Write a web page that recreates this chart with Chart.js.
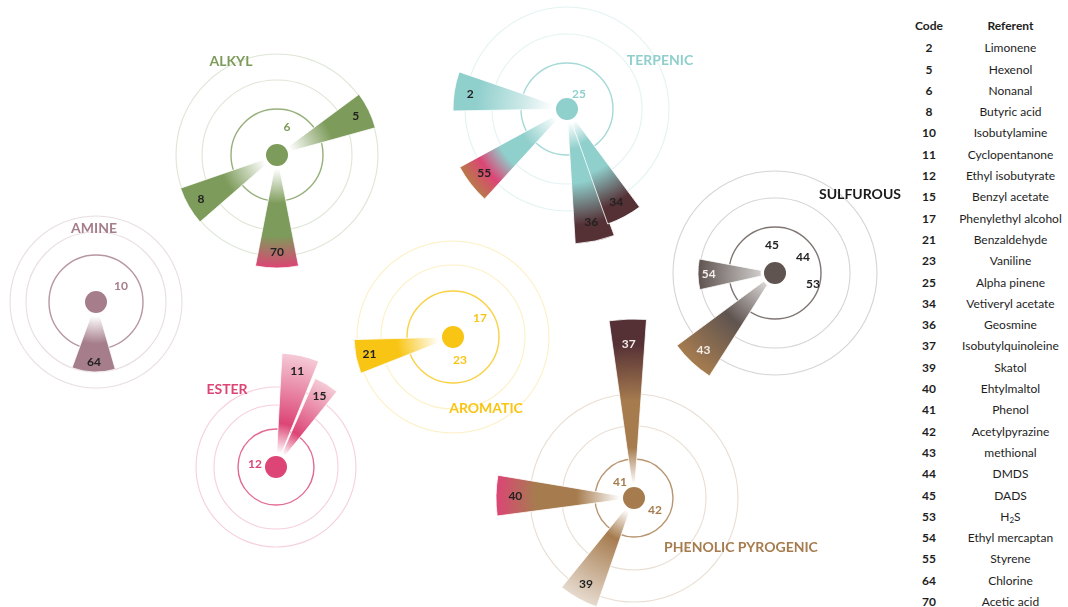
<!DOCTYPE html>
<html lang="en">
<head>
<meta charset="UTF-8">
<meta name="viewport" content="width=device-width, initial-scale=1.0">
<title>Odour families</title>
<script src="https://cdn.jsdelivr.net/npm/chart.js"></script>
<style>
    body { margin: 0; background: #fff; font-family: Lato, sans-serif; }
    .page { position: relative; width: 1068px; height: 607px; overflow: hidden; }
    .wheel-container { position: absolute; left: 0; top: 0; width: 905px; height: 607px; }
    .code-table { position: absolute; left: 905px; top: 15px; width: 163px; font-size: 12px; color: #1e1e1e; }
    .code-row { display: flex; height: 21.3px; line-height: 21.3px; white-space: nowrap; }
    .code-row.head { height: 22.3px; line-height: 22.3px; }
    .code-row .code { width: 50px; text-align: center; font-weight: bold; }
    .code-row .ref { width: 120px; text-align: center; }
    .code-row.head .ref { font-weight: bold; }
    sub { font-size: 8px; line-height: 0; vertical-align: -2px; }
</style>
</head>
<body>
<div class="page">
    <div class="wheel-container">
        <canvas id="wheelChart"></canvas>
    </div>
    <div class="code-table" id="codeTable"></div>
</div>

<script>
    // odour families (one wheel each)
    const families = ['ALKYL', 'TERPENIC', 'SULFUROUS', 'AMINE', 'ESTER', 'AROMATIC', 'PHENOLIC PYROGENIC'];
    const familyX = [27.7, 56.7, 77.5, 9.6, 27.6, 45.3, 63.4];
    const familyY = [15.5, 10.9, 27.3, 30.2, 46.7, 33.7, 49.8];
    const ringRadii = [
        [4.6, 7.5, 10.1], [4.6, 7.5, 10.2], [4.6, 7.5, 10.2], [4.7, 7.0, 8.6],
        [3.8, 6.2, 8.0], [4.6, 7.2, 9.6], [3.9, 7.2, 10.4]
    ];
    const titleX = [23.1, 66.0, 86.0, 9.4, 22.7, 48.6, 74.1];
    const titleY = [6.1, 6.0, 19.4, 22.8, 38.9, 40.8, 54.7];

    // petals: odorants attributed to a family
    const petalFamily = [0, 0, 0, 1, 1, 1, 1, 2, 2, 3, 4, 4, 5, 6, 6, 6];
    const petalCode   = [5, 8, 70, 2, 55, 36, 34, 54, 43, 64, 11, 15, 21, 37, 40, 39];
    const petalAngle  = [-26, 150, 90, 189, 142, 78, 62, 179, 133, 92, -77.5, -58.6, 168.5, -92, 181, 119];
    const petalSpread = [21, 22, 22, 20, 19, 17, 17, 23, 21, 36, 19, 15, 20, 12, 17, 20];
    const petalLength = [10.2, 10.2, 11.3, 11.4, 12.2, 13.5, 12.2, 7.7, 12.2, 7.0, 11.4, 9.7, 9.9, 17.9, 13.8, 11.5];
    const petalShade  = ['', '', 'ESTER', 'fade', 'ESTER>PHENOLIC', 'DARK', 'DARK', 'light', 'PHENOLIC',
                         '', 'pale', 'pale', '', 'DARK', 'ESTER', 'pale'];

    // codes shown inside the inner ring (no petal)
    const quietFamily = [0, 1, 2, 2, 2, 3, 4, 5, 5, 6, 6];
    const quietCode   = [6, 25, 45, 44, 53, 10, 12, 17, 23, 41, 42];
    const quietDx     = [1.0, 1.2, -0.3, 2.8, 3.8, 2.5, -2.1, 2.7, 0.7, -1.4, 2.1];
    const quietDy     = [-2.8, -1.5, -2.8, -1.6, 1.1, -1.6, -0.3, -1.9, 2.3, -1.6, 1.2];

    // code table
    const tableCodes = [2, 5, 6, 8, 10, 11, 12, 15, 17, 21, 23, 25, 34, 36, 37, 39, 40, 41, 42, 43, 44, 45, 53, 54, 55, 64, 70];
    const tableReferents = ['Limonene', 'Hexenol', 'Nonanal', 'Butyric acid', 'Isobutylamine', 'Cyclopentanone',
        'Ethyl isobutyrate', 'Benzyl acetate', 'Phenylethyl alcohol', 'Benzaldehyde', 'Vaniline', 'Alpha pinene',
        'Vetiveryl acetate', 'Geosmine', 'Isobutylquinoleine', 'Skatol', 'Ehtylmaltol', 'Phenol', 'Acetylpyrazine',
        'methional', 'DMDS', 'DADS', 'H<sub>2</sub>S', 'Ethyl mercaptan', 'Styrene', 'Chlorine', 'Acetic acid'];

    const familyColor = {
        'ALKYL': '#7d9b5a', 'TERPENIC': '#8fcfcc', 'SULFUROUS': '#5f5450', 'AMINE': '#a57d8b',
        'ESTER': '#dc4575', 'AROMATIC': '#f8c515', 'PHENOLIC PYROGENIC': '#a67c4f', 'DARK': '#553035'
    };
    const titleColor = { 'SULFUROUS': '#1a1a1a' };
    const lightLabelCodes = [54, 43, 37];

    function hexRgb(hex) {
        const n = parseInt(hex.slice(1), 16);
        return [(n >> 16) & 255, (n >> 8) & 255, n & 255];
    }
    function rgba(hex, a) {
        const c = hexRgb(hex);
        return 'rgba(' + c[0] + ',' + c[1] + ',' + c[2] + ',' + a + ')';
    }
    // blend colour with white, t = share of colour
    function mix(hex, t) {
        const c = hexRgb(hex).map(v => Math.round(255 - (255 - v) * t));
        return 'rgb(' + c.join(',') + ')';
    }

    function petalStops(fam, shade) {
        const c = familyColor[fam];
        const ester = familyColor['ESTER'], phen = familyColor['PHENOLIC PYROGENIC'], dark = familyColor['DARK'];
        switch (shade) {
            case 'fade': return [[0, '#ffffff'], [0.3, mix(c, 0.45)], [0.78, c], [1, c]];
            case 'ESTER': return [[0, '#ffffff'], [0.35, c], [0.68, c], [1, ester]];
            case 'ESTER>PHENOLIC': return [[0, '#ffffff'], [0.35, c], [0.58, c], [0.8, ester], [1, '#b9794a']];
            case 'DARK': return [[0, '#ffffff'], [0.22, c], [0.5, c], [0.85, dark], [1, dark]];
            case 'PHENOLIC': return [[0, mix(c, 0.25)], [0.45, c], [1, phen]];
            case 'pale': return [[0, '#ffffff'], [0.3, c], [1, mix(c, 0.28)]];
            case 'light': return [[0, mix(c, 0.3)], [1, c]];
            default: return [[0, '#ffffff'], [0.5, c], [1, c]];
        }
    }

    const wheelPlugin = {
        id: 'odourWheel',
        beforeDatasetsDraw(chart) {
            const { ctx, scales: { x, y } } = chart;
            const unit = x.getPixelForValue(1) - x.getPixelForValue(0);
            ctx.save();
            // concentric rings
            families.forEach((fam, i) => {
                const cx = x.getPixelForValue(familyX[i]);
                const cy = y.getPixelForValue(familyY[i]);
                ringRadii[i].forEach((r, k) => {
                    ctx.beginPath();
                    ctx.arc(cx, cy, r * unit, 0, Math.PI * 2);
                    ctx.strokeStyle = rgba(familyColor[fam], k === 0 ? 0.8 : 0.25);
                    ctx.lineWidth = k === 0 ? 1.4 : 1.1;
                    ctx.stroke();
                });
            });
            // petals
            petalCode.forEach((code, j) => {
                const i = petalFamily[j];
                const fam = families[i];
                const cx = x.getPixelForValue(familyX[i]);
                const cy = y.getPixelForValue(familyY[i]);
                const r0 = 1.4 * unit;
                const R = petalLength[j] * unit;
                const a = petalAngle[j] * Math.PI / 180;
                const h = petalSpread[j] * Math.PI / 360;
                const g = ctx.createRadialGradient(cx, cy, r0, cx, cy, R);
                petalStops(fam, petalShade[j]).forEach(s => g.addColorStop(s[0], s[1]));
                ctx.beginPath();
                ctx.arc(cx, cy, R, a - h, a + h);
                ctx.arc(cx, cy, r0, a + h, a - h, true);
                ctx.closePath();
                ctx.fillStyle = g;
                ctx.fill();
                ctx.strokeStyle = 'rgba(255,255,255,0.8)';
                ctx.lineWidth = 1;
                ctx.stroke();
            });
            ctx.restore();
        },
        afterDatasetsDraw(chart) {
            const { ctx, scales: { x, y } } = chart;
            const unit = x.getPixelForValue(1) - x.getPixelForValue(0);
            ctx.save();
            ctx.textAlign = 'center';
            ctx.textBaseline = 'middle';
            // petal codes
            ctx.font = 'bold 12px Lato';
            petalCode.forEach((code, j) => {
                const i = petalFamily[j];
                const a = petalAngle[j] * Math.PI / 180;
                const d = petalLength[j] * 0.86 * unit;
                const px = x.getPixelForValue(familyX[i]) + Math.cos(a) * d;
                const py = y.getPixelForValue(familyY[i]) + Math.sin(a) * d;
                ctx.fillStyle = lightLabelCodes.includes(code) ? '#f3eeea' : '#222222';
                ctx.fillText(String(code), px, py);
            });
            // codes without petal
            quietCode.forEach((code, j) => {
                const i = quietFamily[j];
                const fam = families[i];
                ctx.fillStyle = titleColor[fam] ? '#222222' : familyColor[fam];
                ctx.fillText(String(code), x.getPixelForValue(familyX[i] + quietDx[j]), y.getPixelForValue(familyY[i] + quietDy[j]));
            });
            // family titles
            ctx.font = 'bold 14px Lato';
            families.forEach((fam, i) => {
                ctx.fillStyle = titleColor[fam] || familyColor[fam];
                ctx.fillText(fam, x.getPixelForValue(titleX[i]), y.getPixelForValue(titleY[i]));
            });
            ctx.restore();
        }
    };

    const wheelCtx = document.getElementById('wheelChart').getContext('2d');
    const chart = new Chart(wheelCtx, {
        type: 'scatter',
        data: {
            datasets: [{
                label: 'Families',
                data: families.map((f, i) => ({ x: familyX[i], y: familyY[i] })),
                pointBackgroundColor: families.map(f => familyColor[f]),
                pointBorderWidth: 0,
                pointRadius: 11,
                pointHoverRadius: 11
            }]
        },
        options: {
            responsive: true,
            maintainAspectRatio: false,
            animation: false,
            layout: { padding: 0, autoPadding: false },
            scales: {
                x: { type: 'linear', min: 0, max: 90.5, display: false },
                y: { type: 'linear', min: 0, max: 60.7, reverse: true, display: false }
            },
            plugins: {
                legend: { display: false },
                tooltip: { enabled: false }
            }
        },
        plugins: [wheelPlugin]
    });

    // code / referent table
    const table = document.getElementById('codeTable');
    let rows = '<div class="code-row head"><span class="code">Code</span><span class="ref">Referent</span></div>';
    tableCodes.forEach((c, i) => {
        rows += '<div class="code-row"><span class="code">' + c + '</span><span class="ref">' + tableReferents[i] + '</span></div>';
    });
    table.innerHTML = rows;
</script>
</body>
</html>
